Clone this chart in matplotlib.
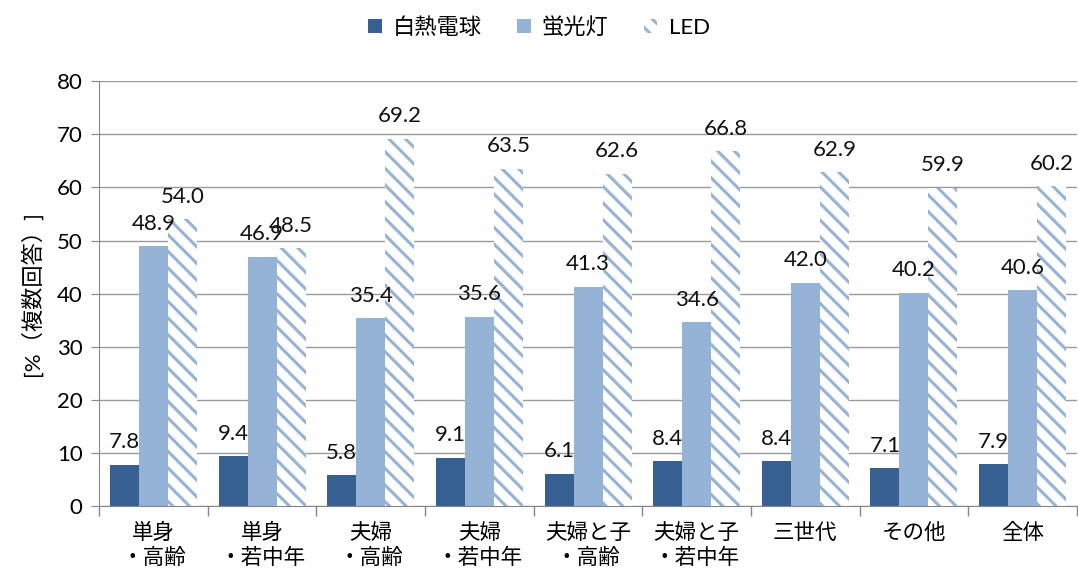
import numpy as np
import matplotlib as mpl
import matplotlib.pyplot as plt

plt.rcParams['font.family'] = ['Lato', 'Noto Sans CJK JP', 'DejaVu Sans']
plt.rcParams['hatch.linewidth'] = 2.2

categories = ['単身\n・高齢', '単身\n・若中年', '夫婦\n・高齢', '夫婦\n・若中年',
              '夫婦と子\n・高齢', '夫婦と子\n・若中年', '三世代', 'その他', '全体']
incandescent = [7.8, 9.4, 5.8, 9.1, 6.1, 8.4, 8.4, 7.1, 7.9]
fluorescent = [48.9, 46.9, 35.4, 35.6, 41.3, 34.6, 42.0, 40.2, 40.6]
led = [54.0, 48.5, 69.2, 63.5, 62.6, 66.8, 62.9, 59.9, 60.2]
series_names = ['白熱電球', '蛍光灯', 'LED']

dark = '#376092'
light = '#95B3D7'
axis_gray = '#868686'

fig = plt.figure(figsize=(10.78, 5.76), dpi=100)
ax = fig.add_axes([0.092, 0.1215, 0.907, 0.7375])

x = np.arange(len(categories))
w = 0.267

b1 = ax.bar(x - w, incandescent, w, color=dark, label=series_names[0])
b2 = ax.bar(x, fluorescent, w, color=light, label=series_names[1])
b3 = ax.bar(x + w, led, w, color='white', edgecolor=light, linewidth=0,
            hatch='\\\\', label=series_names[2])

for bars in (b1, b2, b3):
    for r in bars:
        h = r.get_height()
        ax.annotate(f'{h:.1f}', (r.get_x() + r.get_width() / 2, h),
                    xytext=(0, 9), textcoords='offset points',
                    ha='center', va='bottom', fontsize=16, color='#111111')

ax.set_xlim(-0.5, len(categories) - 0.5)
ax.set_ylim(0, 80)
ax.set_yticks(np.arange(0, 81, 10))
ax.yaxis.grid(True, color='#9a9a9a', lw=1)
ax.set_axisbelow(True)

ax.set_xticks(x)
ax.set_xticklabels(categories, fontsize=15.5, linespacing=1.3, va='top')
ax.set_xticks(np.arange(-0.5, len(categories)), minor=True)
ax.tick_params(axis='x', which='major', length=0, pad=12)
ax.tick_params(axis='x', which='minor', length=7, color=axis_gray, width=1)
ax.tick_params(axis='y', length=6, color=axis_gray, labelsize=16, pad=6)

for s in ('top', 'right'):
    ax.spines[s].set_visible(False)
for s in ('left', 'bottom'):
    ax.spines[s].set_color(axis_gray)

ax.set_ylabel('[%（複数回答）]', fontsize=16, labelpad=10)

fig.legend(handles=[b1, b2, b3], loc='center', bbox_to_anchor=(0.5, 0.953),
           ncol=3, frameon=False, fontsize=16, handlelength=0.6,
           handleheight=0.6, columnspacing=1.6, handletextpad=0.5)

fig.savefig('out.png', dpi=100)
